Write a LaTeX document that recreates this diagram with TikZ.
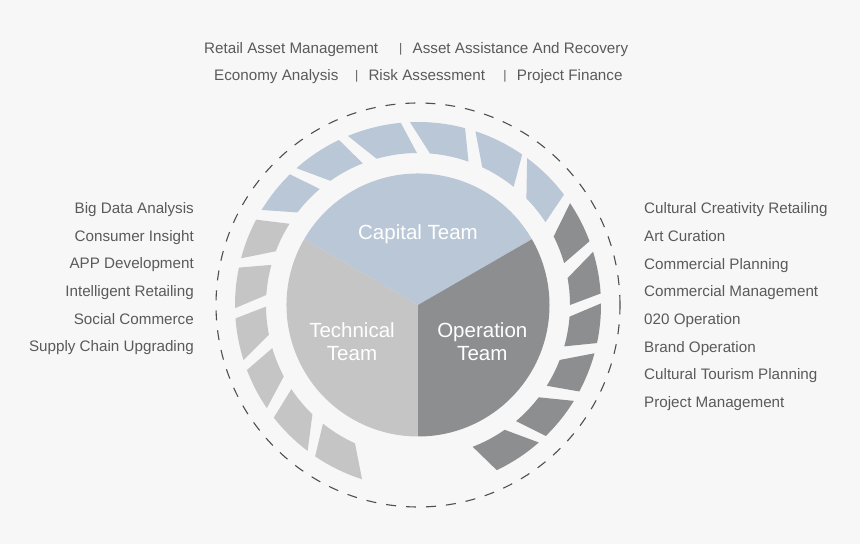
\documentclass[tikz,border=0pt]{standalone}
\usepackage{fontspec}
\setmainfont{Liberation Sans}
\definecolor{bgc}{HTML}{F7F7F7}
\definecolor{capc}{HTML}{B9C7D7}
\definecolor{tecc}{HTML}{C5C5C5}
\definecolor{opec}{HTML}{8D8E90}
\definecolor{txtc}{HTML}{5A5A5A}
\definecolor{dashc}{HTML}{4F4F4F}
\newcommand{\ringseg}[5]{%
  \fill[#1] (#2:183pt) arc[start angle=#2, end angle=#3, radius=183pt]
     -- (#5:152pt) arc[start angle=#5, end angle=#4, radius=152pt] -- cycle;}
\begin{document}
\begin{tikzpicture}[x=1pt,y=1pt,
  lbl/.style={inner sep=0pt, text=txtc, font=\fontsize{15.2}{18}\selectfont},
  bar/.style={inner sep=0pt, text=txtc, font=\fontsize{12.5}{15}\selectfont},
  team/.style={inner sep=0pt, text=white, font=\fontsize{20.5}{23.4}\selectfont}]
\useasboundingbox (0,0) rectangle (860,544);
\fill[bgc] (0,0) rectangle (860,544);

% top labels
\node[lbl, anchor=base west] (t1) at (204,490.7) {Retail Asset Management};
\node[bar, anchor=base] (b1) at (400.7,491.5) {|};
\node[lbl, anchor=base west] (t2) at (412.5,490.7) {Asset Assistance And Recovery};
\node[lbl, anchor=base west] (t3) at (214,463.3) {Economy Analysis};
\node[bar, anchor=base] (b2) at (356.7,464.1) {|};
\node[lbl, anchor=base west] (t4) at (368.3,463.3) {Risk Assessment};
\node[bar, anchor=base] (b3) at (505,464.1) {|};
\node[lbl, anchor=base west] (t5) at (516.7,463.3) {Project Finance};

% left labels
\node[lbl, anchor=base east] (l1) at (194,330.5) {Big Data Analysis};
\node[lbl, anchor=base east] (l2) at (194,302.8) {Consumer Insight};
\node[lbl, anchor=base east] (l3) at (194,275.1) {APP Development};
\node[lbl, anchor=base east] (l4) at (194,247.4) {Intelligent Retailing};
\node[lbl, anchor=base east] (l5) at (194,219.7) {Social Commerce};
\node[lbl, anchor=base east] (l6) at (194,192.0) {Supply Chain Upgrading};

% right labels
\node[lbl, anchor=base west] (r1) at (644,330.2) {Cultural Creativity Retailing};
\node[lbl, anchor=base west] (r2) at (644,302.5) {Art Curation};
\node[lbl, anchor=base west] (r3) at (644,274.8) {Commercial Planning};
\node[lbl, anchor=base west] (r4) at (644,247.1) {Commercial Management};
\node[lbl, anchor=base west] (r5) at (644,219.4) {020 Operation};
\node[lbl, anchor=base west] (r6) at (644,191.7) {Brand Operation};
\node[lbl, anchor=base west] (r7) at (644,164.0) {Cultural Tourism Planning};
\node[lbl, anchor=base west] (r8) at (644,136.3) {Project Management};

\begin{scope}[shift={(418,239)}]
  % dashed outer circle
  \draw[dashc, line width=1.1pt, dash pattern=on 10pt off 10pt] (0,0) circle[radius=202pt];
  % pie
  \fill[capc] (0,0) -- (30:131.5pt) arc[start angle=30, end angle=150, radius=131.5pt] -- cycle;
  \fill[tecc] (0,0) -- (150:131.5pt) arc[start angle=150, end angle=270, radius=131.5pt] -- cycle;
  \fill[opec] (0,0) -- (270:131.5pt) arc[start angle=270, end angle=390, radius=131.5pt] -- cycle;
  % capital ring segments
  \ringseg{capc}{148.7}{134.4}{142.5}{130.3}
  \ringseg{capc}{131.6}{115.6}{125.2}{111.3}
  \ringseg{capc}{112.5}{95.4}{105.8}{90.4}
  \ringseg{capc}{92.5}{75.1}{85.5}{70.6}
  \ringseg{capc}{71.7}{55.3}{65}{51}
  \ringseg{capc}{53.4}{37.1}{44.5}{33}
  % operation ring segments
  \ringseg{opec}{33.8}{20.4}{26.8}{16}
  \ringseg{opec}{16.9}{3.6}{10.2}{0}
  \ringseg{opec}{0.5}{-12}{-4.4}{-15.8}
  \ringseg{opec}{-15.3}{-28.2}{-21.2}{-32.1}
  \ringseg{opec}{-31.6}{-45.7}{-37.4}{-49.8}
  \ringseg{opec}{-48.7}{-64.5}{-55.2}{-68.9}
  % technical ring segments
  \ringseg{tecc}{165.2}{152.2}{159.3}{147.7}
  \ringseg{tecc}{181}{168.2}{176.2}{164.7}
  \ringseg{tecc}{197.5}{184.2}{191.3}{180.6}
  \ringseg{tecc}{214.3}{200.8}{208}{196.5}
  \ringseg{tecc}{232.9}{218}{226}{213.6}
  \ringseg{tecc}{252.2}{235.8}{245.5}{231.3}
\end{scope}

% team labels
\node[team, anchor=base] (cap) at (418,304) {Capital Team};
\node[team, anchor=base] (tec) at (352,206.7) {\begin{tabular}[t]{@{}c@{}}Technical\\Team\end{tabular}};
\node[team, anchor=base] (ope) at (482.3,206.7) {\begin{tabular}[t]{@{}c@{}}Operation\\Team\end{tabular}};
\end{tikzpicture}
\end{document}
